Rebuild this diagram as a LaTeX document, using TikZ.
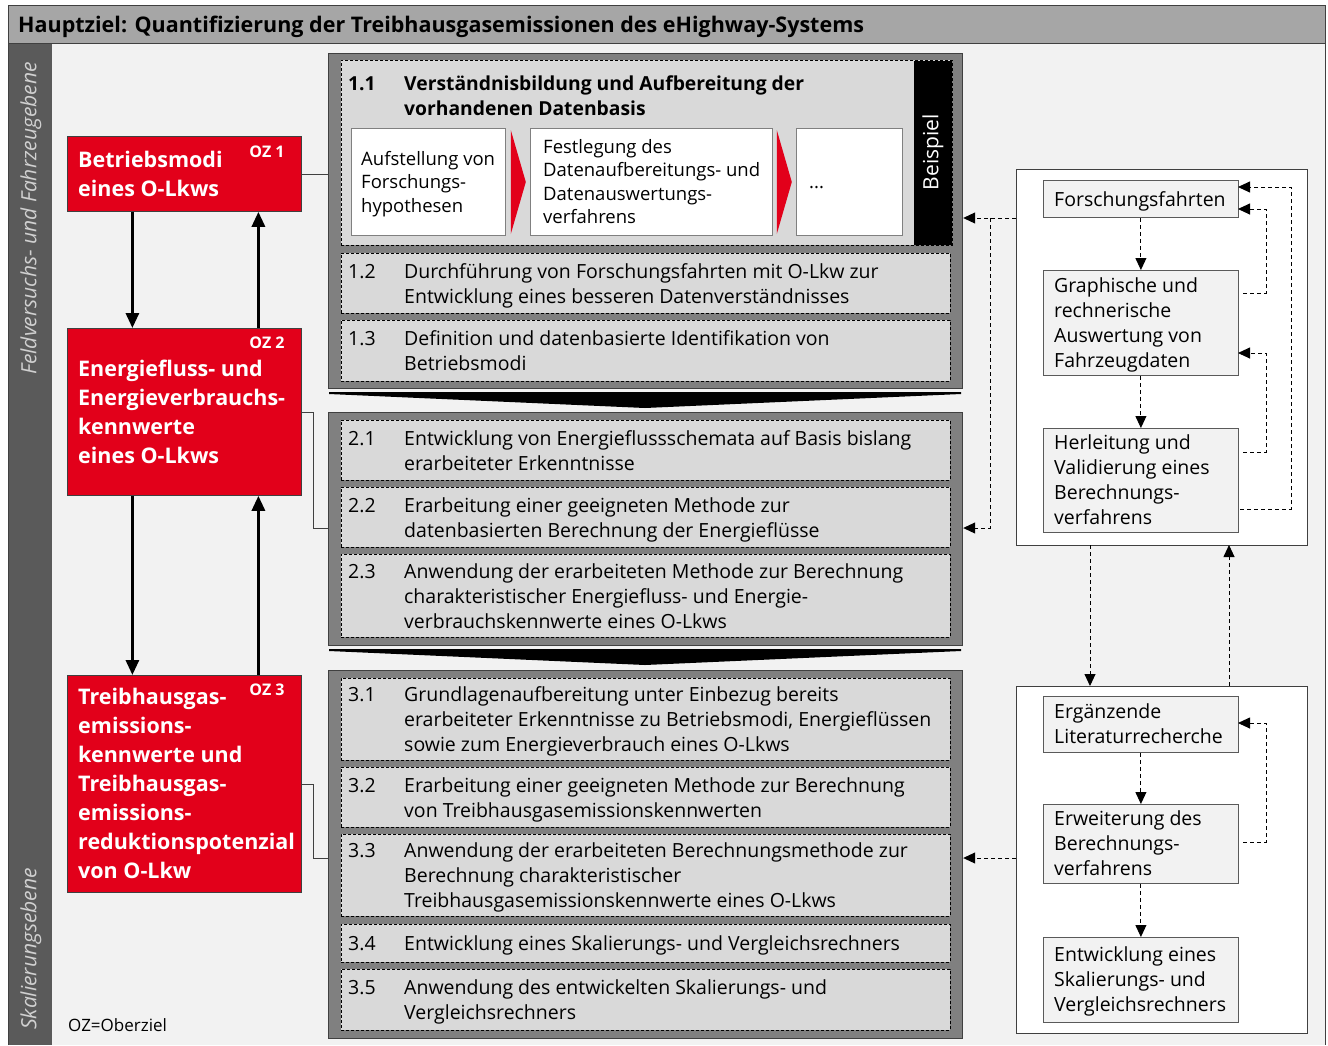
\documentclass[tikz,border=0pt]{standalone}
\usepackage{fontspec}
\setmainfont{Open Sans}
\usetikzlibrary{arrows.meta}
\definecolor{ozred}{HTML}{E2001A}
\definecolor{panel}{HTML}{F2F2F2}
\definecolor{darkbar}{HTML}{5A5A5A}
\definecolor{headgray}{HTML}{A6A6A6}
\definecolor{grpgray}{HTML}{808080}
\definecolor{taskgray}{HTML}{D9D9D9}
\definecolor{edge}{HTML}{404040}
\definecolor{sidetext}{HTML}{D0D0D0}

% multi-line text block and numbered task text with hanging lines
\newcommand\lines[1]{\begin{tabular}{@{}l@{}}#1\end{tabular}}
\newcommand\tasktxt[2]{\makebox[56pt][l]{#1}\begin{tabular}[t]{@{}l@{}}#2\end{tabular}}

\tikzset{
  grp/.style={draw=edge, fill=grpgray, line width=1.2pt, anchor=north west, inner sep=0pt, minimum width=634pt},
  taskbox/.style={draw=black, densely dashed, line width=0.5pt, fill=taskgray, anchor=north west, inner sep=0pt, minimum width=609pt},
  tasklabel/.style={anchor=west, inner sep=0pt, yshift=-2.5pt, font=\fontsize{19.5}{25}\selectfont},
  ozbox/.style={draw=edge, fill=ozred, line width=0.8pt, anchor=north west, inner sep=0pt, minimum width=234pt},
  oztext/.style={anchor=west, inner sep=0pt, yshift=-2pt, text=white, font=\bfseries\fontsize{21.5}{29}\selectfont},
  oztag/.style={anchor=east, inner sep=0pt, text=white, font=\bfseries\fontsize{16}{18}\selectfont},
  subbox/.style={draw=grpgray, fill=white, line width=0.8pt, anchor=north west, inner sep=0pt, minimum height=107pt},
  subtext/.style={anchor=west, inner sep=0pt, yshift=-2pt, font=\fontsize{18.5}{23.5}\selectfont},
  stepbox/.style={draw=darkbar, fill=panel, line width=0.8pt, anchor=north west, inner sep=0pt, minimum width=195pt},
  steptext/.style={anchor=west, inner sep=0pt, yshift=-2pt, font=\fontsize{19.5}{25}\selectfont},
  cont/.style={draw=edge, fill=white, line width=0.8pt, anchor=north west, inner sep=0pt, minimum width=291pt},
  thickarrow/.style={line width=3pt, -{Triangle[length=15pt,width=13pt]}},
  dasharrow/.style={line width=0.9pt, dash pattern=on 4pt off 3pt, -{Triangle[length=12pt,width=11pt]}},
  connector/.style={line width=0.8pt, draw=edge},
  sidelabel/.style={rotate=90, inner sep=0pt, text=sidetext, font=\itshape\fontsize{21}{24}\selectfont}
}

\begin{document}
\begin{tikzpicture}[x=1pt,y=-1pt]
\useasboundingbox (0,0) rectangle (1328,1045);

% frame, header and level bar
\fill[panel] (8,43) rectangle (1325,1045);
\fill[headgray] (8,5) rectangle (1325,43);
\fill[darkbar] (8,43) rectangle (52,1045);
\draw[edge, line width=0.8pt] (8,1045) -- (8,5) -- (1325,5) -- (1325,1045);
\draw[edge, line width=0.8pt] (8,43) -- (1325,43);
\node[anchor=west, inner sep=0pt, font=\bfseries\fontsize{21.5}{24}\selectfont] (title) at (18,27)
  {Hauptziel: Quantifizierung der Treibhausgasemissionen des eHighway-Systems};
\node[sidelabel, anchor=east] (lvlA) at (31,62) {Feldversuchs- und Fahrzeugebene};
\node[sidelabel, anchor=west] (lvlB) at (31,1030) {Skalierungsebene};

% Oberziele
\node[ozbox, minimum height=75pt] (oz1) at (67,136) {};
\node[ozbox, minimum height=167pt] (oz2) at (67,328) {};
\node[ozbox, minimum height=217pt] (oz3) at (67,675) {};
\node[oztext] (oz1t) at ([xshift=11pt]oz1.west) {\lines{Betriebsmodi\\eines O-Lkws}};
\node[oztext] (oz2t) at ([xshift=11pt]oz2.west) {\lines{Energiefluss- und\\Energieverbrauchs-\\kennwerte\\eines O-Lkws}};
\node[oztext] (oz3t) at ([xshift=11pt]oz3.west) {\lines{Treibhausgas-\\emissions-\\kennwerte und\\Treibhausgas-\\emissions-\\reduktionspotenzial\\von O-Lkw}};
\node[oztag] (oz1g) at ([shift={(-17,16)}]oz1.north east) {OZ 1};
\node[oztag] (oz2g) at ([shift={(-17,15)}]oz2.north east) {OZ 2};
\node[oztag] (oz3g) at ([shift={(-17,15)}]oz3.north east) {OZ 3};
\node[anchor=west, inner sep=0pt, font=\fontsize{17}{20}\selectfont] (legend) at (68,1025) {OZ=Oberziel};

\draw[thickarrow] ([xshift=-52pt]oz1.south) -- ([xshift=-52pt]oz2.north);
\draw[thickarrow] ([xshift=74pt]oz2.north) -- ([xshift=74pt]oz1.south);
\draw[thickarrow] ([xshift=-52pt]oz2.south) -- ([xshift=-52pt]oz3.north);
\draw[thickarrow] ([xshift=74pt]oz3.north) -- ([xshift=74pt]oz2.south);

% work package groups
\node[grp, minimum height=335pt] (g1) at (328,53) {};
\node[grp, minimum height=233pt] (g2) at (328,412) {};
\node[grp, minimum height=368pt] (g3) at (328,670) {};

% flow chevrons between the groups
\fill[black] (329,392) -- (961,392) -- (961,394) -- (645,408) -- (329,394) -- cycle;
\fill[black] (329,649) -- (961,649) -- (961,651) -- (645,665) -- (329,651) -- cycle;

% package 1
\node[taskbox, minimum width=611pt, minimum height=185pt] (t11) at (341,60) {};
\fill[black] (914,61) rectangle (951.5,244.5);
\node[rotate=90, inner sep=0pt, text=white, font=\fontsize{21}{24}\selectfont] (ex) at (933,152) {Beispiel};
\node[tasklabel, font=\bfseries\fontsize{19.3}{25}\selectfont] (t11l) at (348,95)
  {\tasktxt{1.1}{Verständnisbildung und Aufbereitung der\\vorhandenen Datenbasis}};
\node[subbox, minimum width=154pt] (s1) at (351,128) {};
\node[subbox, minimum width=242pt] (s2) at (530,128) {};
\node[subbox, minimum width=106pt] (s3) at (796,128) {};
\node[subtext] (s1t) at ([xshift=10pt]s1.west) {\lines{Aufstellung von\\Forschungs-\\hypothesen}};
\node[subtext] (s2t) at ([xshift=13pt]s2.west) {\lines{Festlegung des\\Datenaufbereitungs- und\\Datenauswertungs-\\verfahrens}};
\node[subtext] (s3t) at ([shift={(13,4)}]s3.west) {...};
\fill[ozred] (s1.north east) ++(5,2) -- ++(15,52) -- ++(-15,52) -- cycle;
\fill[ozred] (s2.north east) ++(4,2) -- ++(15,52) -- ++(-15,52) -- cycle;

\node[taskbox, minimum height=60pt] (t12) at (341,253) {};
\node[tasklabel] (t12l) at ([xshift=7pt]t12.west) {\tasktxt{1.2}{Durchführung von Forschungsfahrten mit O-Lkw zur\\Entwicklung eines besseren Datenverständnisses}};
\node[taskbox, minimum height=61pt] (t13) at (341,320) {};
\node[tasklabel] (t13l) at ([xshift=7pt]t13.west) {\tasktxt{1.3}{Definition und datenbasierte Identifikation von\\Betriebsmodi}};

% package 2
\node[taskbox, minimum height=60pt] (t21) at (341,420) {};
\node[tasklabel] (t21l) at ([xshift=7pt]t21.west) {\tasktxt{2.1}{Entwicklung von Energieflussschemata auf Basis bislang\\erarbeiteter Erkenntnisse}};
\node[taskbox, minimum height=60pt] (t22) at (341,487) {};
\node[tasklabel] (t22l) at ([xshift=7pt]t22.west) {\tasktxt{2.2}{Erarbeitung einer geeigneten Methode zur\\datenbasierten Berechnung der Energieflüsse}};
\node[taskbox, minimum height=83pt] (t23) at (341,554) {};
\node[tasklabel] (t23l) at ([xshift=7pt]t23.west) {\tasktxt{2.3}{Anwendung der erarbeiteten Methode zur Berechnung\\charakteristischer Energiefluss- und Energie-\\verbrauchskennwerte eines O-Lkws}};

% package 3
\node[taskbox, minimum height=82pt] (t31) at (341,678) {};
\node[tasklabel] (t31l) at ([xshift=7pt]t31.west) {\tasktxt{3.1}{Grundlagenaufbereitung unter Einbezug bereits\\erarbeiteter Erkenntnisse zu Betriebsmodi, Energieflüssen\\sowie zum Energieverbrauch eines O-Lkws}};
\node[taskbox, minimum height=60pt] (t32) at (341,767) {};
\node[tasklabel] (t32l) at ([xshift=7pt]t32.west) {\tasktxt{3.2}{Erarbeitung einer geeigneten Methode zur Berechnung\\von Treibhausgasemissionskennwerten}};
\node[taskbox, minimum height=82pt] (t33) at (341,834) {};
\node[tasklabel] (t33l) at ([xshift=7pt]t33.west) {\tasktxt{3.3}{Anwendung der erarbeiteten Berechnungsmethode zur\\Berechnung charakteristischer\\Treibhausgasemissionskennwerte eines O-Lkws}};
\node[taskbox, minimum height=38pt] (t34) at (341,924) {};
\node[tasklabel] (t34l) at ([xshift=7pt]t34.west) {\tasktxt{3.4}{Entwicklung eines Skalierungs- und Vergleichsrechners}};
\node[taskbox, minimum height=61pt] (t35) at (341,969) {};
\node[tasklabel] (t35l) at ([xshift=7pt]t35.west) {\tasktxt{3.5}{Anwendung des entwickelten Skalierungs- und\\Vergleichsrechners}};

% links from the goals to the packages
\coordinate (g2in) at (328,528);
\coordinate (g3in) at (328,858);
\draw[connector] (oz1.east) -- (g1.west |- oz1.east);
\draw[connector] (oz2.east) -- ++(12,0) |- (g2in);
\draw[connector] (oz3.east) -- ++(12,0) |- (g3in);

% research steps, upper block
\node[cont, minimum height=376pt] (rc1) at (1016,169) {};
\node[stepbox, minimum height=37pt] (fo) at (1043,180) {};
\node[stepbox, minimum height=105pt] (gr) at (1043,270) {};
\node[stepbox, minimum height=104pt] (he) at (1043,428) {};
\node[steptext] (fot) at ([xshift=11pt]fo.west) {Forschungsfahrten};
\node[steptext] (grt) at ([xshift=11pt]gr.west) {\lines{Graphische und\\rechnerische\\Auswertung von\\Fahrzeugdaten}};
\node[steptext] (het) at ([xshift=11pt]he.west) {\lines{Herleitung und\\Validierung eines\\Berechnungs-\\verfahrens}};

% research steps, lower block
\node[cont, minimum height=347pt] (rc2) at (1016,686) {};
\node[stepbox, minimum height=56pt] (er) at (1043,696) {};
\node[stepbox, minimum height=79pt] (ew) at (1043,804) {};
\node[stepbox, minimum height=85pt] (en) at (1043,937) {};
\node[steptext] (ert) at ([xshift=11pt]er.west) {\lines{Ergänzende\\Literaturrecherche}};
\node[steptext] (ewt) at ([xshift=11pt]ew.west) {\lines{Erweiterung des\\Berechnungs-\\verfahrens}};
\node[steptext] (ent) at ([xshift=11pt]en.west) {\lines{Entwicklung eines\\Skalierungs- und\\Vergleichsrechners}};

% step sequence
\draw[dasharrow] (fo.south) -- (gr.north);
\draw[dasharrow] (gr.south) -- (he.north);
\draw[dasharrow] (er.south) -- (ew.north);
\draw[dasharrow] (ew.south) -- (en.north);

% feedback loops
\coordinate (grback) at (1243,293);
\coordinate (foinA) at (1238,209);
\coordinate (heback) at (1243,452);
\coordinate (grin) at (1238,353);
\coordinate (heout) at (1240,509);
\coordinate (foinB) at (1238,187);
\coordinate (ewback) at (1243,842);
\coordinate (erin) at (1238,723);
\draw[dasharrow] (grback) -- ++(23,0) |- (foinA);
\draw[dasharrow] (heback) -- ++(23,0) |- (grin);
\draw[dasharrow] (heout) -- ++(51,0) |- (foinB);
\draw[dasharrow] (ewback) -- ++(23,0) |- (erin);

% links between the blocks and to the packages
\coordinate (rc1a) at (1090,545);
\coordinate (rc2a) at (1090,686);
\coordinate (rc2b) at (1229,686);
\coordinate (rc1b) at (1229,545);
\draw[dasharrow] (rc1a) -- (rc2a);
\draw[dasharrow] (rc2b) -- (rc1b);
\coordinate (split) at (990,218);
\draw[dasharrow] (rc1.west |- split) -- (g1.east |- split);
\draw[dasharrow] (split) |- (g2.east |- g2in);
\draw[dasharrow] (rc2.west |- g3in) -- (g3.east |- g3in);
\end{tikzpicture}
\end{document}
